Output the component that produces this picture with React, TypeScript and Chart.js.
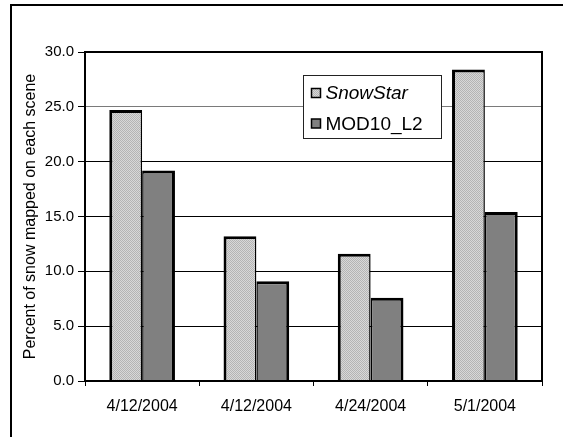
import React, { useEffect, useRef } from "react";
import { Chart, registerables } from "chart.js";

Chart.register(...registerables);

const categories = ["4/12/2004", "4/12/2004", "4/24/2004", "5/1/2004"];
const snowStar = [24.7, 13.2, 11.6, 28.4];
const mod10 = [19.2, 9.1, 7.6, 15.4];
const seriesNames = ["SnowStar", "MOD10_L2"];
const yTicksMax = 30;
const yStep = 5;
const yTitle = "Percent of snow mapped on each scene";

const FONT = "'Liberation Sans', Arial, sans-serif";

function makePattern(): CanvasPattern | string {
  const c = document.createElement("canvas");
  c.width = 2;
  c.height = 2;
  const g = c.getContext("2d");
  if (!g) return "#c8c8c8";
  g.fillStyle = "#d8d8d8";
  g.fillRect(0, 0, 2, 2);
  g.fillStyle = "#b4b4b4";
  g.fillRect(0, 0, 1, 1);
  g.fillRect(1, 1, 1, 1);
  const p = g.createPattern(c, "repeat");
  return p || "#c8c8c8";
}

export default function App() {
  const ref = useRef<HTMLCanvasElement | null>(null);

  useEffect(() => {
    if (!ref.current) return;
    const pattern = makePattern();

    const framePlugin = {
      id: "frame",
      afterDatasetsDraw(chart: any) {
        const { ctx, chartArea: a } = chart;
        ctx.save();
        ctx.strokeStyle = "#000";
        ctx.lineWidth = 2;
        ctx.strokeRect(a.left, a.top, a.right - a.left, a.bottom - a.top);
        ctx.restore();
      },
    };

    const legendPlugin = {
      id: "boxLegend",
      afterDraw(chart: any) {
        const { ctx, chartArea: a } = chart;
        const x = Math.round(a.left + (a.right - a.left) * 0.477) + 0.5;
        const y = Math.round(a.top + 23) + 0.5;
        const w = 138;
        const h = 63;
        ctx.save();
        ctx.fillStyle = "#fff";
        ctx.fillRect(x, y, w, h);
        ctx.strokeStyle = "#222";
        ctx.lineWidth = 1;
        ctx.strokeRect(x, y, w, h);
        chart.data.datasets.forEach((ds: any, i: number) => {
          const cy = y + 17.5 + i * 30.5;
          ctx.fillStyle = ds.backgroundColor;
          ctx.fillRect(x + 8, cy - 4.5, 9, 9);
          ctx.strokeStyle = "#000";
          ctx.lineWidth = 1.5;
          ctx.strokeRect(x + 8, cy - 4.5, 9, 9);
          ctx.fillStyle = "#000";
          ctx.font = (i === 0 ? "italic " : "") + "19px " + FONT;
          ctx.textBaseline = "middle";
          ctx.textAlign = "left";
          ctx.fillText(ds.label, x + 22, cy + 1);
        });
        ctx.restore();
      },
    };

    const chart = new Chart(ref.current, {
      type: "bar",
      data: {
        labels: categories,
        datasets: [
          {
            label: seriesNames[0],
            data: snowStar,
            backgroundColor: pattern as any,
            borderColor: "#000",
            borderWidth: { left: 3, top: 3, right: 1.5, bottom: 0 } as any,
            borderSkipped: false,
            categoryPercentage: 0.575,
            barPercentage: 1,
          },
          {
            label: seriesNames[1],
            data: mod10,
            backgroundColor: "#808080",
            borderColor: "#000",
            borderWidth: { left: 1.5, top: 3, right: 3, bottom: 0 } as any,
            borderSkipped: false,
            categoryPercentage: 0.575,
            barPercentage: 1,
          },
        ],
      },
      options: {
        animation: false,
        responsive: false,
        devicePixelRatio: 1,
        layout: { padding: { left: 11, right: 21, top: 52, bottom: 16 } },
        plugins: {
          legend: { display: false },
          tooltip: { enabled: false },
        },
        scales: {
          x: {
            type: "category",
            afterFit: (s: any) => {
              s.height = 40;
            },
            grid: {
              offset: true,
              drawOnChartArea: false,
              drawTicks: true,
              tickLength: 5,
              color: "#000",
              lineWidth: 1,
            },
            border: { display: true, color: "#000", width: 2 },
            ticks: {
              color: "#000",
              padding: 11,
              maxRotation: 0,
              autoSkip: false,
              font: { family: FONT, size: 16 },
            },
          },
          y: {
            min: 0,
            max: yTicksMax,
            afterFit: (s: any) => {
              s.width = 74;
            },
            ticks: {
              stepSize: yStep,
              color: "#000",
              padding: 4,
              font: { family: FONT, size: 15 },
              callback: (v: any) => Number(v).toFixed(1),
            },
            grid: {
              color: (c: any) => (c.tick && c.tick.value === 25 ? "#7a7a7a" : "#000"),
              tickColor: "#000",
              lineWidth: 1,
              tickLength: 7,
            },
            border: { display: true, color: "#000", width: 2 },
            title: {
              display: true,
              text: yTitle,
              color: "#000",
              padding: { top: 10, bottom: 0 },
              font: { family: FONT, size: 16 },
            },
          },
        },
      },
      plugins: [framePlugin, legendPlugin],
    });

    return () => chart.destroy();
  }, []);

  return (
    <div style={{ position: "fixed", left: 0, top: 0, width: 563, height: 437, background: "#fff", overflow: "hidden" }}>
      <div
        style={{
          position: "absolute",
          left: 10,
          top: 4,
          width: 600,
          height: 500,
          borderLeft: "2px solid #000",
          borderTop: "2px solid #000",
          boxSizing: "border-box",
        }}
      />
      <canvas ref={ref} width={563} height={437} style={{ position: "absolute", left: 0, top: 0 }} />
    </div>
  );
}
